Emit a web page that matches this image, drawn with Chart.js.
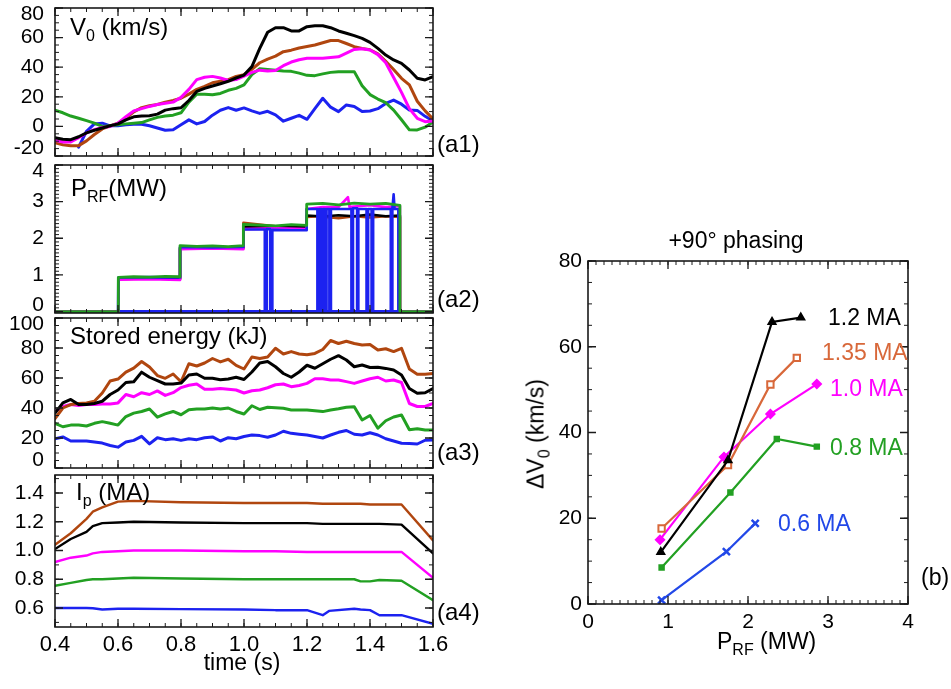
<!DOCTYPE html>
<html><head><meta charset="utf-8">
<script src="https://cdn.jsdelivr.net/npm/chart.js@4.4.1/dist/chart.umd.min.js"></script>
<style>
html,body{margin:0;padding:0;background:#fff;}
#wrap{position:relative;width:951px;height:689px;overflow:hidden;font-family:"Liberation Sans",Arial,sans-serif;color:#000;}
canvas{position:absolute;}
.t{position:absolute;font-size:24px;line-height:24px;white-space:nowrap;}
.m{font-size:23px;line-height:23px;}
.s{font-size:16px;position:relative;top:6px;}
</style></head><body>
<div id="wrap">
<canvas id="a1" width="470" height="168" style="left:0;top:0"></canvas>
<canvas id="a2" width="470" height="172" style="left:0;top:153px"></canvas>
<canvas id="a3" width="470" height="174" style="left:0;top:306px"></canvas>
<canvas id="a4" width="470" height="226" style="left:0;top:463px"></canvas>
<canvas id="b" width="471" height="474" style="left:480px;top:215px"></canvas>

<div class="t" style="left:70px;top:15px">V<span class="s">0</span> (km/s)</div>
<div class="t" style="left:71px;top:176px">P<span class="s">RF</span>(MW)</div>
<div class="t" style="left:70px;top:324px">Stored energy (kJ)</div>
<div class="t" style="left:76px;top:480px">I<span class="s">p</span> (MA)</div>
<div class="t" style="left:437px;top:132px">(a1)</div>
<div class="t" style="left:437px;top:287px">(a2)</div>
<div class="t" style="left:437px;top:440px">(a3)</div>
<div class="t" style="left:437px;top:600px">(a4)</div>
<div class="t m" style="left:242px;top:651px;transform:translateX(-50%)">time (s)</div>

<div class="t m" style="left:736px;top:229px;transform:translateX(-50%)">+90&deg; phasing</div>
<div class="t m" style="left:828px;top:306px;color:#000">1.2 MA</div>
<div class="t m" style="left:822px;top:341px;color:#d8683a">1.35 MA</div>
<div class="t m" style="left:830px;top:377px;color:#ff00ff">1.0 MA</div>
<div class="t m" style="left:830px;top:436px;color:#22a022">0.8 MA</div>
<div class="t m" style="left:778px;top:512px;color:#2248e8">0.6 MA</div>
<div class="t m" style="left:921px;top:566px">(b)</div>
<div class="t m" style="left:717px;top:630px">P<span class="s">RF</span> (MW)</div>
<div class="t m" style="left:537px;top:434px;transform:translate(-50%,-50%) rotate(-90deg)">&Delta;V<span class="s">0</span> (km/s)</div>
</div>
<script>
// ---------- data ----------
const time = [0.4,0.425,0.45,0.475,0.5,0.525,0.55,0.575,0.6,0.625,0.65,0.675,0.7,0.725,0.75,0.775,0.8,0.825,0.85,0.875,0.9,0.925,0.95,0.975,1.0,1.025,1.05,1.075,1.1,1.125,1.15,1.175,1.2,1.225,1.25,1.275,1.3,1.325,1.35,1.375,1.4,1.425,1.45,1.475,1.5,1.525,1.55,1.575,1.6];

const v0Black = [-7.6,-8.7,-9,-7,-4.4,-2.6,-1.1,0.4,1.7,4.4,6.5,7,7.2,8.3,11,12,12.6,17.5,23.6,25.7,27.3,28.8,30.5,32.7,34.7,40.4,52.7,63.6,66.7,66.7,64.5,64.5,67.4,68,68,66.7,64.5,62.9,61.3,59.5,56.8,52.7,48.2,44.9,42.6,38.1,32.5,31.4,33.6];
const v0Brown = [-11,-12.4,-13,-13,-9.8,-5.5,-1.7,0.4,2.2,5.5,9.8,12.7,14,14.8,16.4,17.5,19,21.8,25,27,29.5,30.5,31.6,33.8,35,38.5,43,45.5,47.5,50.5,51.5,53,54,55,56.5,58,58,56,53.9,52.7,51.8,49,44,38.5,32.5,28,17,10.5,5];
const v0Magenta = [-9.4,-10.5,-10.5,-7.6,-4.4,-2.2,-0.7,0,2.2,6.5,10.5,12,13.5,14.8,15.7,16.4,19.6,25,31.6,33.2,33.8,32.7,31,31.6,34,36.5,38,37.5,37.8,41,43.5,45,46,46,46,46.5,47,49.5,52,52.5,51.6,48.5,43,33,23,12,5.5,3.2,3.6];
const v0Green = [10.9,9.2,7,5.5,3.9,2.2,0,0.4,1.1,1.7,2.2,2.6,4.4,6.1,7,7.6,9.2,16.4,21.8,21.8,21.4,22.3,24.4,25.7,28,35,39,38.5,38,37.5,37.2,36,34.5,34.3,35.5,36.5,37,37,37,27.5,21.5,18.5,16,11,4.5,-2.3,-2.4,-0.5,3];
const v0Blue = [null,null,null,-14,-3.3,1.7,2.2,0.4,0.4,1.1,1.5,1.5,0.4,-1.1,-2.6,-2.2,1.1,4.4,1.7,3.3,7.6,10.9,12.7,10.9,12.5,10.5,8.8,10.2,7.8,3.5,5.5,7.5,4.8,12,19,13,10,14.5,13.5,10,10.4,12,15.5,17.8,15,11,10.8,6.8,3.6];

const prfGreenT = [0.4,0.601,0.601,0.65,0.7,0.75,0.797,0.797,0.85,0.9,0.95,0.998,0.998,1.05,1.1,1.15,1.199,1.199,1.25,1.3,1.35,1.4,1.45,1.495,1.495,1.6];
const prfGreenV = [0,0,0.93,0.95,0.94,0.96,0.95,1.8,1.78,1.79,1.77,1.8,2.38,2.36,2.34,2.37,2.35,2.93,2.95,2.91,2.96,2.93,2.95,2.9,0,0];
const prfBlackT = [0.4,0.601,0.601,0.7,0.797,0.797,0.9,0.998,0.998,1.1,1.199,1.199,1.24,1.25,1.26,1.3,1.35,1.4,1.45,1.495,1.495,1.6];
const prfBlackV = [0,0,0.9,0.91,0.9,1.75,1.76,1.75,2.3,2.32,2.3,2.62,2.6,2.4,2.6,2.63,2.6,2.65,2.6,2.62,0,0];
const prfBrownV = [0,0,0.88,0.9,0.88,1.72,1.73,1.72,2.42,2.33,2.3,2.58,2.6,2.56,2.58,2.55,2.6,2.57,2.6,2.58,0,0];
const prfMagentaT = [0.4,0.601,0.601,0.7,0.797,0.797,0.9,0.998,0.998,1.1,1.199,1.199,1.25,1.3,1.33,1.335,1.34,1.4,1.45,1.495,1.495,1.6];
const prfMagentaV = [0,0,0.87,0.88,0.86,1.7,1.72,1.7,2.25,2.27,2.25,2.8,2.85,2.85,3.12,2.85,2.86,2.9,2.85,2.88,0,0];
const prfBlueT = [0.6,0.601,0.7,0.797,0.797,0.9,0.998,0.998,1.066,1.066,1.072,1.072,1.083,1.083,1.09,1.09,1.15,1.199,1.199,1.233,1.233,1.238,1.238,1.246,1.246,1.251,1.251,1.258,1.258,1.262,1.262,1.271,1.271,1.276,1.276,1.341,1.341,1.346,1.346,1.359,1.359,1.363,1.363,1.389,1.389,1.394,1.394,1.405,1.405,1.41,1.41,1.466,1.466,1.471,1.471,1.475,1.478,1.49,1.49];
const prfBlueV = [0,0.93,0.94,0.93,1.76,1.75,1.76,2.24,2.24,0,0,2.25,2.25,0,0,2.23,2.22,2.22,2.8,2.8,0,0,2.8,2.8,0,0,2.8,2.8,0,0,2.8,2.8,0,0,2.8,2.8,0,0,2.82,2.82,0,0,2.8,2.8,0,0,2.8,2.8,0,0,2.8,2.8,0,0,2.8,3.2,2.8,2.8,0];
const prfBlueFloorT = [0.6,1.495];
const prfBlueFloorV = [0,0];

const weBrown = [33,40,42.3,43,43.4,44.5,50,58,59.3,63.9,66.6,71,67.3,61.6,59.8,62.7,57.5,69.5,68,70,73,70.7,72.5,68.4,66,74,73,74,79.8,76,77.6,76,75.5,76.4,79,85,83,84.5,83,82,82.4,78.7,79.5,77.6,79.8,66,62.5,62.5,63];
const weBlack = [36.6,43.4,45.7,42.3,42.3,43,44.5,49,52,57,57.5,63.9,60.5,58.2,56,56,56.6,62,62.7,59.8,59.8,58.9,59.3,60.5,59,64,70,71,67.5,63,60.5,64,68.5,66.5,69.5,72.5,74.9,72,67.5,68.7,67,67.2,66.4,65.3,62,53,49.8,50.2,53];
const weMagenta = [37.7,41,42.3,41.6,42.3,42.3,42.7,42.7,43.4,49,47.5,50.2,49,51.4,48.4,50.2,53.6,55.2,56,52.5,52.5,53,52.5,52,50,51.5,52,53.5,55.5,56,54.2,55,56.4,59.5,59.5,58.7,58.7,57.6,56.4,58,59.5,60.5,58,58.7,57,43,41,41,43];
const weGreen = [29.8,27.5,28.6,28.6,28,29.8,30.9,29.8,28.6,34.3,36.6,37.7,39.3,33.9,36.1,37.7,35.5,38.9,39.3,39.3,40,39.3,40,37.7,36,41.5,39,40.5,40.2,39.8,38.7,38.7,38.7,38.2,37.6,38.7,39.5,40.5,40.9,32,35,26.5,31.5,34,35.3,25.5,26.2,25.3,25.3];
const weBlue = [19.5,20.7,18,18,18,17.3,16.6,15,13.9,17.3,18.4,21.1,16.1,20.2,18.9,19.5,18.4,19.5,18.9,20.2,20.7,18,20.2,19.5,21,22,21.6,20.5,22,24.5,23.1,22.5,22,21,20,22,23.8,25,22.5,22,23.5,22,19.5,18,16.5,16.4,16,18.5,18.7];

const ipTime = [0.4,0.45,0.5,0.52,0.55,0.6,0.65,0.8,1.0,1.1,1.2,1.25,1.27,1.35,1.37,1.4,1.43,1.5,1.6];
const ipBrown = [1.04,1.12,1.22,1.27,1.3,1.34,1.345,1.335,1.33,1.33,1.33,1.325,1.325,1.325,1.325,1.32,1.32,1.32,1.07];
const ipBlack = [1.01,1.08,1.13,1.17,1.19,1.195,1.2,1.195,1.19,1.19,1.19,1.185,1.185,1.185,1.185,1.185,1.185,1.18,0.98];
const ipMagenta = [0.92,0.95,0.965,0.98,0.99,0.995,1.0,1.0,0.995,0.995,0.99,0.99,0.99,0.99,0.99,0.99,0.99,0.99,0.81];
const ipGreen = [0.755,0.775,0.795,0.8,0.8,0.805,0.81,0.805,0.8,0.8,0.8,0.8,0.8,0.8,0.785,0.785,0.795,0.79,0.655];
const ipBlue = [0.6,0.6,0.6,0.598,0.59,0.595,0.595,0.592,0.59,0.585,0.585,0.55,0.58,0.595,0.59,0.585,0.55,0.55,0.49];

const bPrf12 = [0.91,1.75,2.3,2.66],   bDv12 = [12.1,33.5,65.8,66.8];
const bPrf135 = [0.92,1.75,2.28,2.61], bDv135 = [17.6,32.4,51.2,57.4];
const bPrf10 = [0.9,1.7,2.28,2.86],    bDv10 = [15,34.3,44.3,51.3];
const bPrf08 = [0.92,1.78,2.36,2.86],  bDv08 = [8.5,26,38.5,36.7];
const bPrf06 = [0.92,1.73,2.09],       bDv06 = [0.9,12.2,18.8];

const timeTicks = [0.4,0.6,0.8,1.0,1.2,1.4,1.6];
const v0Ticks = [-20,0,20,40,60,80];
const prfTicks = [0,1,2,3,4];
const weTicks = [0,20,40,60,80,100];
const ipTicks = [0.6,0.8,1.0,1.2,1.4];
const bxTicks = [0,1,2,3,4];
const byTicks = [0,20,40,60,80];

// ---------- style ----------
const C = {black:'#000000', brown:'#b0460f', magenta:'#ff00ff', green:'#22a022', blue:'#1c22f0'};
const CB = {black:'#000000', orange:'#d8683a', magenta:'#ff00ff', green:'#22a022', blue:'#2248e8'};
const FONT = '"Liberation Sans", Arial, sans-serif';
Chart.defaults.font.family = FONT;
Chart.defaults.color = '#000';

const frameCfg = {
  a1: {xMajor:0.2, xMinor:0.05, yMajor:20, yMinor:5, labels:v0Ticks, fmt:v=>String(v)},
  a2: {xMajor:0.2, xMinor:0.05, yMajor:1, yMinor:0.1, labels:prfTicks, fmt:v=>String(v)},
  a3: {xMajor:0.2, xMinor:0.05, yMajor:20, yMinor:5, labels:weTicks, fmt:v=>String(v)},
  a4: {xMajor:0.2, xMinor:0.05, yMajor:0.2, yMinor:0.1, labels:ipTicks, fmt:v=>v.toFixed(1)},
  b:  {xMajor:1, xMinor:0.1, yMajor:20, yMinor:5, labels:null}
};

const framePlugin = {
  id: 'frame',
  afterDatasetsDraw(chart) {
    const cfg = frameCfg[chart.canvas.id];
    const {ctx, chartArea: a} = chart;
    const xs = chart.scales.x, ys = chart.scales.y;
    ctx.save();
    ctx.strokeStyle = '#1a1a1a';
    const marks = (scale, step, len, isX) => {
      const n0 = Math.ceil(scale.min / step - 1e-6), n1 = Math.floor(scale.max / step + 1e-6);
      ctx.beginPath();
      for (let n = n0; n <= n1; n++) {
        const p = scale.getPixelForValue(n * step);
        if (isX) { ctx.moveTo(p, a.bottom); ctx.lineTo(p, a.bottom - len); ctx.moveTo(p, a.top); ctx.lineTo(p, a.top + len); }
        else { ctx.moveTo(a.left, p); ctx.lineTo(a.left + len, p); ctx.moveTo(a.right, p); ctx.lineTo(a.right - len, p); }
      }
      ctx.stroke();
    };
    ctx.lineWidth = 1;
    marks(xs, cfg.xMinor, 4, true); marks(ys, cfg.yMinor, 4, false);
    ctx.lineWidth = 1.3;
    marks(xs, cfg.xMajor, 8, true); marks(ys, cfg.yMajor, 8, false);
    ctx.lineWidth = 1.6;
    ctx.strokeRect(a.left, a.top, a.right - a.left, a.bottom - a.top);
    if (cfg.labels) {
      ctx.fillStyle = '#000';
      ctx.font = '21px ' + FONT;
      ctx.textAlign = 'right'; ctx.textBaseline = 'middle';
      cfg.labels.forEach(v => {
        let p = ys.getPixelForValue(v);
        p = Math.min(Math.max(p, a.top + 6), a.bottom - 8);
        ctx.fillText(cfg.fmt(v), a.left - 11, p);
      });
    }
    ctx.restore();
  }
};

const ser = (xs, ys, color, w) => ({
  data: xs.map((x, i) => ({x: x, y: ys[i]})),
  borderColor: color, backgroundColor: color, borderWidth: w,
  pointRadius: 0, fill: false, spanGaps: false
});

function leftPanel(id, yMin, yMax, datasets, showX, pad) {
  return new Chart(document.getElementById(id), {
    type: 'line',
    data: {datasets},
    options: {
      responsive: false, animation: false, devicePixelRatio: 1,
      layout: {padding: pad},
      plugins: {legend: {display: false}, tooltip: {enabled: false}},
      elements: {line: {tension: 0, borderJoinStyle: 'round', borderCapStyle: 'round'}},
      scales: {
        x: {type: 'linear', min: 0.4, max: 1.6, display: showX,
            grid: {display: false, drawTicks: false}, border: {display: false},
            ticks: {font: {size: 22}, color: '#000', padding: 5, autoSkip: false, maxRotation: 0,
                    callback: v => Number(v).toFixed(1)},
            afterBuildTicks: s => { s.ticks = timeTicks.map(v => ({value: v})); },
            afterFit: s => { s.height = showX ? 62 : 0; s.paddingLeft = 0; s.paddingRight = 0; }},
        y: {type: 'linear', min: yMin, max: yMax,
            grid: {display: false, drawTicks: false}, border: {display: false},
            ticks: {display: false},
            afterFit: s => { s.width = 55; s.paddingTop = 0; s.paddingBottom = 0; }}
      }
    },
    plugins: [framePlugin]
  });
}

const PR = 37;
leftPanel('a1', -20, 80, [
  ser(time, v0Black, C.black, 3),
  ser(time, v0Magenta, C.magenta, 3),
  ser(time, v0Brown, C.brown, 3),
  ser(time, v0Green, C.green, 3),
  ser(time, v0Blue, C.blue, 3)
], false, {left: 0, right: PR, top: 8, bottom: 12});

leftPanel('a2', -0.04, 4, [
  ser(prfGreenT, prfGreenV, C.green, 2.8),
  ser(prfBlueT, prfBlueV, C.blue, 2.6),
  ser(prfMagentaT, prfMagentaV, C.magenta, 2.6),
  ser(prfBlackT, prfBlackV, C.black, 2.6),
  ser(prfBlackT, prfBrownV, C.brown, 2.6),
  ser(prfBlueFloorT, prfBlueFloorV, C.blue, 3)
], false, {left: 0, right: PR, top: 12, bottom: 12});

leftPanel('a3', 0, 100, [
  ser(time, weBlack, C.black, 3),
  ser(time, weBrown, C.brown, 3),
  ser(time, weMagenta, C.magenta, 3),
  ser(time, weGreen, C.green, 3),
  ser(time, weBlue, C.blue, 3)
], false, {left: 0, right: PR, top: 12, bottom: 12});

leftPanel('a4', 0.468, 1.525, [
  ser(ipTime, ipBrown, C.brown, 2.4),
  ser(ipTime, ipBlack, C.black, 2.4),
  ser(ipTime, ipMagenta, C.magenta, 2.4),
  ser(ipTime, ipGreen, C.green, 2.4),
  ser(ipTime, ipBlue, C.blue, 2.4)
], true, {left: 0, right: PR, top: 12, bottom: 0});

const bser = (xs, ys, color, style, r, fillColor, bw) => ({
  data: xs.map((x, i) => ({x: x, y: ys[i]})),
  borderColor: color, borderWidth: 2.2,
  pointStyle: style, pointRadius: r, pointBorderColor: color,
  pointBackgroundColor: fillColor, pointBorderWidth: bw, fill: false, tension: 0
});

new Chart(document.getElementById('b'), {
  type: 'line',
  data: {datasets: [
    bser(bPrf12, bDv12, CB.black, 'triangle', 4.5, CB.black, 1.5),
    bser(bPrf135, bDv135, CB.orange, 'rect', 4.5, '#ffffff', 2),
    bser(bPrf10, bDv10, CB.magenta, 'rectRot', 4.5, CB.magenta, 1.5),
    bser(bPrf08, bDv08, CB.green, 'rect', 3.5, CB.green, 1.5),
    bser(bPrf06, bDv06, CB.blue, 'crossRot', 5, CB.blue, 2.5)
  ]},
  options: {
    responsive: false, animation: false, devicePixelRatio: 1,
    layout: {padding: {left: 68, right: 43, top: 46, bottom: 55}},
    plugins: {legend: {display: false}, tooltip: {enabled: false}},
    scales: {
      x: {type: 'linear', min: 0, max: 4,
          grid: {display: false, drawTicks: false}, border: {display: false},
          ticks: {font: {size: 21}, color: '#000', padding: 6, autoSkip: false, maxRotation: 0},
          afterBuildTicks: s => { s.ticks = bxTicks.map(v => ({value: v})); },
          afterFit: s => { s.height = 30; s.paddingLeft = 0; s.paddingRight = 0; }},
      y: {type: 'linear', min: 0, max: 80,
          grid: {display: false, drawTicks: false}, border: {display: false},
          ticks: {font: {size: 21}, color: '#000', padding: 6, autoSkip: false},
          afterBuildTicks: s => { s.ticks = byTicks.map(v => ({value: v})); },
          afterFit: s => { s.width = 40; s.paddingTop = 0; s.paddingBottom = 0; }}
    }
  },
  plugins: [framePlugin]
});
</script>
</body></html>
